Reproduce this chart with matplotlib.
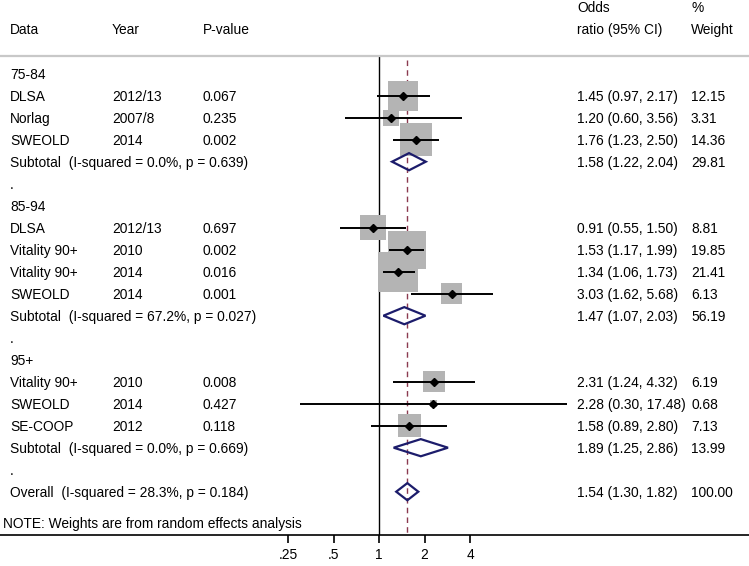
import matplotlib
matplotlib.use("Agg")
import matplotlib.pyplot as plt
from matplotlib.patches import Rectangle, Polygon
import numpy as np

plt.rcParams['font.family'] = ['Liberation Sans', 'DejaVu Sans']

# ---------------- data ----------------
groups = ["75-84", "85-94", "95+"]
studies = [["DLSA", "Norlag", "SWEOLD"],
           ["DLSA", "Vitality 90+", "Vitality 90+", "SWEOLD"],
           ["Vitality 90+", "SWEOLD", "SE-COOP"]]
years = [["2012/13", "2007/8", "2014"],
         ["2012/13", "2010", "2014", "2014"],
         ["2010", "2014", "2012"]]
pvals = [["0.067", "0.235", "0.002"],
         ["0.697", "0.002", "0.016", "0.001"],
         ["0.008", "0.427", "0.118"]]
or_est = [[1.45, 1.20, 1.76], [0.91, 1.53, 1.34, 3.03], [2.31, 2.28, 1.58]]
ci_lo = [[0.97, 0.60, 1.23], [0.55, 1.17, 1.06, 1.62], [1.24, 0.30, 0.89]]
ci_hi = [[2.17, 3.56, 2.50], [1.50, 1.99, 1.73, 5.68], [4.32, 17.48, 2.80]]
weights = [[12.15, 3.31, 14.36], [8.81, 19.85, 21.41, 6.13], [6.19, 0.68, 7.13]]

sub_or = [1.58, 1.47, 1.89]
sub_lo = [1.22, 1.07, 1.25]
sub_hi = [2.04, 2.03, 2.86]
sub_w = [29.81, 56.19, 13.99]
sub_i2 = ["0.0%", "67.2%", "0.0%"]
sub_p = ["0.639", "0.027", "0.669"]

overall_or, overall_lo, overall_hi, overall_w = 1.54, 1.30, 1.82, 100.00
overall_i2, overall_p = "28.3%", "0.184"

xticks = [0.25, 0.5, 1, 2, 4]
xticklabels = [".25", ".5", "1", "2", "4"]

# ---------------- layout ----------------
W, H = 749, 566
fig = plt.figure(figsize=(W / 100, H / 100), dpi=100)
axis_px = 535           # y of x-axis line (from top)
row0_px = 73.7          # first row centre
row_px = 22.0           # row spacing
x1_px = 379.0           # pixel of OR = 1
oct_px = 45.5           # pixels per doubling

ax = fig.add_axes([0, (H - axis_px) / H, 1, axis_px / H])
ax.set_xscale('log', base=2)
ax.set_xlim(2 ** (-x1_px / oct_px), 2 ** ((W - x1_px) / oct_px))
ybot = (axis_px - row0_px) / row_px
ytop = -row0_px / row_px
ax.set_ylim(ybot, ytop)
for s in ['top', 'left', 'right']:
    ax.spines[s].set_visible(False)
ax.spines['bottom'].set_linewidth(1.2)
ax.set_yticks([])
ax.set_xticks(xticks)
ax.set_xticklabels(xticklabels)
ax.xaxis.set_minor_locator(matplotlib.ticker.NullLocator())
ax.tick_params(axis='x', direction='out', length=5.5, width=1.2, pad=4, labelsize=9.9)

fs = 9.9
tr = ax.get_yaxis_transform()  # x in axes fraction, y in data
base_off = 0.22

def txt(xpx, row, s):
    ax.text(xpx / W, row + base_off, s, transform=tr, fontsize=fs,
            ha='left', va='baseline', color='black')

col_data, col_year, col_p, col_ci, col_w = 10, 112, 203, 577, 691

# header
txt(col_data, -2.02, "Data")
txt(col_year, -2.02, "Year")
txt(col_p, -2.02, "P-value")
txt(col_ci, -3.02, "Odds")
txt(col_ci, -2.02, "ratio (95% CI)")
txt(col_w, -3.02, "%")
txt(col_w, -2.02, "Weight")
ax.plot([0, 1], [-0.8, -0.8], transform=tr, color='#c8c8c8', lw=1.6,
        clip_on=False, solid_capstyle='butt')

# reference lines
ax.plot([1, 1], [-0.74, ybot], color='black', lw=1.0, zorder=1)
ax.plot([overall_or, overall_or], [-0.62, ybot], color='#8b3a50', lw=1.0,
        ls=(0, (4, 3)), zorder=1)

def box_half(w):
    side = 8.6 * np.sqrt(w)
    return side / 2.0

def diamond(est, lo, hi, row):
    hh = 0.39
    poly = Polygon([[lo, row], [est, row - hh], [hi, row], [est, row + hh]],
                   closed=True, fill=False, edgecolor='#1c1c6b', lw=1.6, zorder=3)
    ax.add_patch(poly)

row = 0
for g in range(len(groups)):
    txt(col_data, row, groups[g])
    row += 1
    for k in range(len(studies[g])):
        txt(col_data, row, studies[g][k])
        txt(col_year, row, years[g][k])
        txt(col_p, row, pvals[g][k])
        txt(col_ci, row, f"{or_est[g][k]:.2f} ({ci_lo[g][k]:.2f}, {ci_hi[g][k]:.2f})")
        txt(col_w, row, f"{weights[g][k]:.2f}")
        hp = box_half(weights[g][k])
        fx = 2 ** (hp / oct_px)
        hy = hp / row_px
        ax.add_patch(Rectangle((or_est[g][k] / fx, row - hy), or_est[g][k] * fx - or_est[g][k] / fx,
                               2 * hy, facecolor='#b4b4b4', edgecolor='none', zorder=2))
        ax.plot([ci_lo[g][k], ci_hi[g][k]], [row, row], color='black', lw=1.4, zorder=3,
                solid_capstyle='butt')
        ax.plot([or_est[g][k]], [row], marker='D', ms=4.2, color='black', zorder=4)
        row += 1
    txt(col_data, row, f"Subtotal  (I-squared = {sub_i2[g]}, p = {sub_p[g]})")
    txt(col_ci, row, f"{sub_or[g]:.2f} ({sub_lo[g]:.2f}, {sub_hi[g]:.2f})")
    txt(col_w, row, f"{sub_w[g]:.2f}")
    diamond(sub_or[g], sub_lo[g], sub_hi[g], row)
    row += 1
    txt(col_data, row, ".")
    row += 1

txt(col_data, row, f"Overall  (I-squared = {overall_i2}, p = {overall_p})")
txt(col_ci, row, f"{overall_or:.2f} ({overall_lo:.2f}, {overall_hi:.2f})")
txt(col_w, row, f"{overall_w:.2f}")
diamond(overall_or, overall_lo, overall_hi, row)

txt(3, (523 - row0_px) / row_px, "NOTE: Weights are from random effects analysis")

fig.savefig("out.png", dpi=100)
